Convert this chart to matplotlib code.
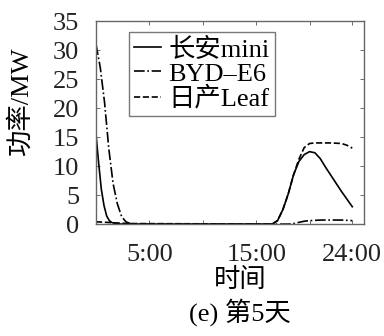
import numpy as np
import matplotlib
matplotlib.use("Agg")
from matplotlib import pyplot as plt

plt.rcParams['font.family'] = ['Liberation Serif', 'Noto Sans CJK SC']
plt.rcParams['font.size'] = 19

# charging power on day 5, hours 0-24
t_mini = [0, 0.25, 0.5, 0.75, 1.0, 1.25, 1.5, 2.0, 2.5, 3.0, 16.5, 17.0, 17.5, 18.0,
          18.5, 19.0, 19.5, 20.0, 20.5, 21.0, 21.5, 22.0, 22.5, 23.0, 23.5, 24.0]
p_mini = [15.5, 10.5, 6.0, 3.2, 1.4, 0.6, 0.25, 0.05, 0.0, 0.0, 0.0, 0.6, 2.5, 5.2,
          8.5, 10.8, 12.0, 12.5, 12.3, 11.3, 9.8, 8.4, 7.0, 5.6, 4.3, 3.0]

t_byd = [0, 0.4, 0.8, 1.2, 1.6, 2.0, 2.4, 2.8, 3.2, 3.6, 18.0, 18.5, 19.0, 19.5,
         20.0, 21.0, 22.0, 23.0, 24.0]
p_byd = [31.0, 27.0, 21.0, 13.0, 7.0, 3.5, 1.3, 0.4, 0.1, 0.0, 0.0, 0.1, 0.3, 0.5,
         0.6, 0.7, 0.7, 0.7, 0.6]

t_leaf = [0, 1.0, 2.0, 3.0, 16.5, 17.0, 17.5, 18.0, 18.5, 19.0, 19.5, 20.0, 20.5,
          21.0, 22.0, 23.0, 23.5, 24.0]
p_leaf = [0.4, 0.3, 0.2, 0.1, 0.0, 0.6, 2.5, 5.2, 8.5, 11.2, 13.2, 13.9, 14.0,
          14.0, 14.0, 13.9, 13.6, 13.1]

xticks = [5, 10, 15, 20, 24]
xlabels = ['5:00', '', '15:00', '', '24:00']

fig = plt.figure(figsize=(3.84, 3.36), dpi=100)
ax = fig.add_axes([0.25, 0.333, 0.698, 0.604])

ax.plot(t_mini, p_mini, color='k', lw=1.2, ls='-', label='长安mini')
ax.plot(t_byd, p_byd, color='k', lw=1.2, ls='-.', label='BYD–E6')
ax.plot(t_leaf, p_leaf, color='k', lw=1.2, ls='--', label='日产Leaf')

ax.set_xlim(0, 25.1)
ax.set_ylim(0, 35)
ax.set_yticks(np.arange(0, 36, 5))
ax.set_xticks(xticks)
ax.set_xticklabels(xlabels)
ax.tick_params(direction='in', top=True, right=True, length=3, width=0.6,
               colors='#555555', labelcolor='#222222', labelsize=19)
ax.tick_params(axis='y', pad=12)
ax.tick_params(axis='x', pad=14)
for s in ax.spines.values():
    s.set_color('#666666')
    s.set_linewidth(1.0)

ax.set_ylabel('功率/MW', fontsize=19)
ax.yaxis.set_label_coords(-0.235, 0.606)

leg = ax.legend(loc='upper left', bbox_to_anchor=(0.123, 0.946), frameon=True,
                fancybox=False, edgecolor='#555555', handlelength=1.0,
                handletextpad=0.3, borderpad=0.2, labelspacing=0.02,
                borderaxespad=0, fontsize=19)
leg.get_frame().set_linewidth(1.0)

fig.text(0.625, 0.167, '时间', ha='center', va='center', fontsize=19)
fig.text(0.625, 0.071, '(e) 第5天', ha='center', va='center', fontsize=19)

fig.savefig('out.png', dpi=100)
